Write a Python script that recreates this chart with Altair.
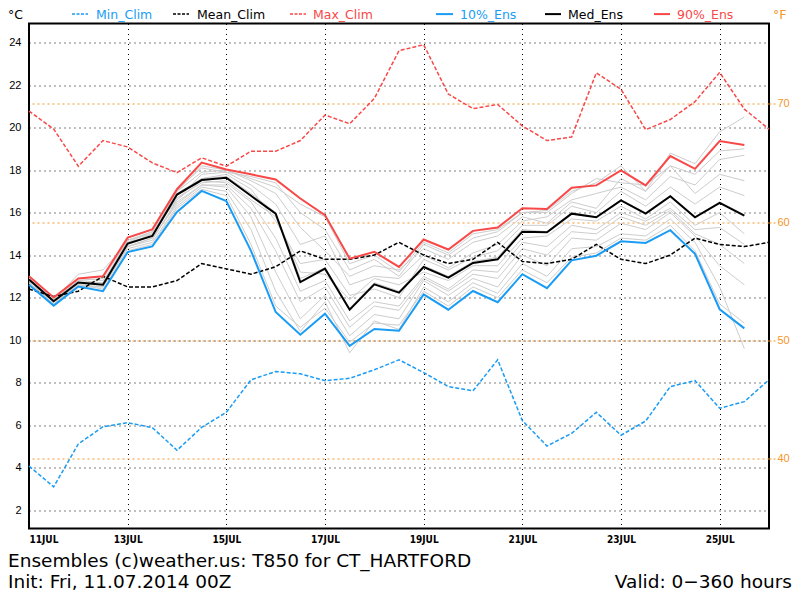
import altair as alt
import pandas as pd

# ---------------- data ----------------
hours_clim = list(range(0, 361, 12))   # 31 points, 11JUL 00Z .. 26JUL 00Z
hours_ens = list(range(0, 349, 12))    # 30 points

min_clim = [4.07, 3.09, 5.11, 5.92, 6.11, 5.88, 4.81, 5.89, 6.60, 8.13, 8.52, 8.41, 8.09, 8.20, 8.60, 9.07,
            8.47, 7.81, 7.61, 9.07, 6.21, 5.01, 5.61, 6.60, 5.52, 6.19, 7.81, 8.09, 6.79, 7.10, 8.13]
mean_clim = [12.4, 12.05, 12.3, 13.0, 12.5, 12.5, 12.8, 13.6, 13.35, 13.1, 13.45, 14.2, 13.8, 13.8, 14.0, 14.6,
             14.0, 13.6, 13.8, 14.6, 13.7, 13.6, 13.8, 14.5, 13.8, 13.6, 14.0, 14.8, 14.5, 14.4, 14.6]
max_clim = [20.78, 19.93, 18.18, 19.39, 19.09, 18.34, 17.88, 18.58, 18.18, 18.89, 18.89, 19.39, 20.59, 20.18, 21.37, 23.62,
            23.9, 21.58, 20.89, 21.09, 20.08, 19.39, 19.56, 22.58, 21.8, 19.9, 20.38, 21.22, 22.6, 20.87, 19.93]

p10_ens = [12.6, 11.62, 12.52, 12.3, 14.14, 14.41, 16.03, 17.02, 16.54, 14.2, 11.32, 10.25, 11.24, 9.73, 10.52,
           10.44, 12.15, 11.43, 12.31, 11.78, 13.1, 12.44, 13.75, 13.97, 14.65, 14.57, 15.17, 14.06, 11.45, 10.55]
med_ens = [12.85, 11.83, 12.71, 12.6, 14.54, 14.9, 16.85, 17.53, 17.64, 16.79, 15.95, 12.73, 13.36, 11.43, 12.62,
           12.23, 13.44, 12.94, 13.63, 13.8, 15.1, 15.07, 15.95, 15.78, 16.57, 15.95, 16.77, 15.78, 16.46, 15.86]
p90_ens = [13.0, 12.0, 12.9, 13.0, 14.82, 15.21, 17.1, 18.35, 18.03, 17.8, 17.56, 16.66, 15.88, 13.83, 14.15,
           13.44, 14.73, 14.26, 15.14, 15.3, 16.2, 16.17, 17.17, 17.28, 17.98, 17.28, 18.66, 18.06, 19.37, 19.18]

members = [
    [12.9, 11.9, 12.8, 12.9, 14.7, 15.0, 17.0, 18.2, 18.0, 17.6, 17.2, 16.4, 15.8, 13.6, 14.0, 13.2, 14.6, 14.1, 15.0, 15.2, 16.0, 16.1, 17.0, 17.4, 18.2, 17.0, 18.8, 18.3, 19.8, 20.5],
    [12.7, 11.7, 12.6, 12.4, 14.2, 14.5, 16.2, 17.1, 16.8, 14.5, 11.6, 10.6, 11.5, 9.9, 10.8, 10.7, 12.3, 11.6, 12.5, 12.0, 13.3, 12.7, 13.9, 14.1, 14.8, 14.7, 15.4, 14.2, 11.7, 10.8],
    [12.8, 11.8, 12.7, 12.7, 14.6, 14.9, 16.9, 17.6, 17.7, 16.9, 16.0, 12.9, 13.4, 11.5, 12.7, 12.3, 13.5, 13.0, 13.7, 13.9, 15.2, 15.1, 16.0, 15.8, 16.6, 16.0, 16.8, 15.8, 16.5, 15.9],
    [12.8, 11.9, 13.1, 13.3, 14.6, 15.1, 16.6, 17.8, 17.9, 17.3, 16.4, 14.5, 14.9, 12.6, 13.0, 12.9, 14.0, 13.4, 14.1, 14.5, 15.6, 15.8, 16.6, 16.9, 17.2, 16.6, 17.7, 17.3, 18.5, 18.7],
    [12.7, 11.8, 12.5, 12.5, 14.4, 14.8, 16.4, 17.3, 17.2, 15.8, 13.2, 11.0, 12.1, 10.2, 11.2, 11.0, 12.8, 12.1, 12.9, 12.5, 14.0, 13.5, 14.8, 14.7, 15.5, 15.2, 16.0, 14.9, 13.5, 12.6],
    [12.9, 11.9, 12.9, 12.8, 14.5, 15.0, 17.0, 17.9, 18.0, 17.5, 16.9, 15.3, 14.2, 13.0, 13.5, 13.3, 14.3, 13.8, 14.6, 14.9, 15.8, 15.5, 16.5, 16.2, 17.6, 17.0, 18.2, 16.9, 17.8, 17.5],
    [12.8, 11.8, 12.6, 12.6, 14.4, 14.7, 16.6, 17.5, 17.4, 16.5, 14.8, 12.3, 12.8, 10.9, 11.8, 11.6, 13.0, 12.4, 13.3, 13.2, 14.6, 14.4, 15.4, 15.2, 16.0, 15.6, 16.2, 15.2, 15.3, 14.5],
    [12.9, 11.9, 12.8, 12.7, 14.7, 15.1, 16.8, 17.6, 17.8, 17.1, 15.6, 13.6, 13.8, 12.1, 12.4, 12.0, 13.8, 13.3, 13.9, 14.2, 15.4, 15.4, 16.3, 16.0, 17.0, 16.3, 17.2, 16.4, 17.2, 16.8],
    [12.7, 11.7, 12.6, 12.5, 14.3, 14.6, 16.3, 17.2, 17.0, 15.2, 12.3, 10.4, 11.8, 9.4, 10.9, 10.5, 12.5, 11.8, 12.7, 12.2, 13.6, 13.0, 14.3, 14.4, 15.0, 14.9, 15.7, 14.6, 12.5, 9.6],
    [12.8, 11.8, 12.7, 12.7, 14.5, 14.9, 16.7, 17.4, 17.5, 16.6, 15.8, 13.2, 13.1, 11.9, 12.9, 12.6, 13.2, 12.8, 13.5, 13.5, 14.8, 14.9, 15.7, 15.6, 16.3, 15.7, 16.5, 15.4, 16.0, 15.0],
    [12.9, 11.9, 12.9, 13.0, 14.8, 15.2, 17.1, 18.1, 17.9, 17.7, 17.4, 16.0, 15.2, 13.3, 13.8, 13.0, 14.5, 14.0, 14.8, 15.1, 16.0, 16.0, 16.9, 17.6, 17.4, 17.3, 18.2, 17.8, 18.9, 19.0],
    [12.8, 11.8, 12.7, 12.6, 14.4, 14.8, 16.5, 17.3, 17.3, 16.2, 14.2, 11.8, 12.5, 10.6, 11.6, 11.4, 12.9, 12.3, 13.1, 12.9, 14.3, 14.0, 15.1, 15.0, 15.8, 15.4, 16.1, 15.0, 14.5, 13.6],
]

x_tick_hours = list(range(0, 337, 48))
y_ticks_c = list(range(2, 25, 2))
f_ticks = [40, 50, 60, 70]

# ---------------- styling ----------------
BLUE = "#1a9cf5"
RED = "#f84848"
ORANGE = "#f5962a"
GRAY = "#cdcdcd"
W, H = 740, 505
YDOM = [1.13, 24.9]

x_enc = alt.X(
    "hour:Q",
    scale=alt.Scale(domain=[0, 360], nice=False, zero=False),
    axis=alt.Axis(values=x_tick_hours, labelExpr="(11 + datum.value/24) + 'JUL'",
                  grid=True, gridColor="black", gridDash=[1, 4], gridWidth=1,
                  ticks=False, domain=False, title=None,
                  labelFont="Liberation Sans Narrow, DejaVu Sans Condensed, sans-serif",
                  labelFontSize=10, labelFontWeight="bold", labelColor="black", labelPadding=6),
)
y_axis = alt.Axis(values=y_ticks_c, grid=True, gridColor="black", gridDash=[1, 4], gridWidth=1,
                  ticks=False, domain=False, title=None, orient="left",
                  labelFont="Liberation Sans", labelFontSize=11, labelColor="black",
                  labelPadding=8, labelOverlap=False)
y_enc = alt.Y("value:Q", scale=alt.Scale(domain=YDOM, nice=False, zero=False), axis=y_axis)


def series_df(hours, vals):
    return pd.DataFrame({"hour": hours, "value": vals})


mem_rows = []
for k, m in enumerate(members):
    for h, v in zip(hours_ens, m):
        mem_rows.append({"hour": h, "value": v, "member": k})
mem_df = pd.DataFrame(mem_rows)

layers = [
    alt.Chart(mem_df).mark_line(color=GRAY, strokeWidth=1).encode(x=x_enc, y=y_enc, detail="member:N"),
    alt.Chart(series_df(hours_clim, min_clim)).mark_line(color=BLUE, strokeWidth=1.5, strokeDash=[4, 2]).encode(x=x_enc, y=y_enc),
    alt.Chart(series_df(hours_clim, mean_clim)).mark_line(color="black", strokeWidth=1.5, strokeDash=[4, 2]).encode(x=x_enc, y=y_enc),
    alt.Chart(series_df(hours_clim, max_clim)).mark_line(color=RED, strokeWidth=1.5, strokeDash=[4, 2]).encode(x=x_enc, y=y_enc),
    alt.Chart(series_df(hours_ens, p10_ens)).mark_line(color=BLUE, strokeWidth=2).encode(x=x_enc, y=y_enc),
    alt.Chart(series_df(hours_ens, med_ens)).mark_line(color="black", strokeWidth=2).encode(x=x_enc, y=y_enc),
    alt.Chart(series_df(hours_ens, p90_ens)).mark_line(color=RED, strokeWidth=2).encode(x=x_enc, y=y_enc),
]

# ---------------- legend / annotations (pixel positions relative to plot) ----------------
one = pd.DataFrame({"d": [0]})
LEG_BASE = -5.0     # text baseline
LEG_Y = -9.4        # swatch line
LEG_FONT = "DejaVu Sans"


def label(txt, x, y, color="black", size=12.5, align="left", font=LEG_FONT, baseline="alphabetic"):
    return alt.Chart(one).mark_text(text=txt, color=color, fontSize=size, font=font, align=align,
                                    baseline=baseline).encode(x=alt.value(x), y=alt.value(y))


def swatch(x1, x2, color, dash=None):
    kw = dict(color=color, strokeWidth=1.5 if dash else 2)
    if dash:
        kw["strokeDash"] = dash
    return alt.Chart(one).mark_rule(**kw).encode(x=alt.value(x1), x2=alt.value(x2), y=alt.value(LEG_Y))


BOT = 18.5
annots = [
    label("°C", -21, LEG_BASE),
    swatch(43, 59, BLUE, [3, 1.5]), label("Min_Clim", 67, LEG_BASE, BLUE),
    swatch(144, 160, "black", [3, 1.5]), label("Mean_Clim", 168, LEG_BASE, "black"),
    swatch(261, 277, RED, [3, 1.5]), label("Max_Clim", 284, LEG_BASE, RED),
    swatch(407, 424, BLUE), label("10%_Ens", 431, LEG_BASE, BLUE),
    swatch(516, 532, "black"), label("Med_Ens", 539, LEG_BASE, "black"),
    swatch(625, 641, RED), label("90%_Ens", 648, LEG_BASE, RED),
    label("°F", 744, LEG_BASE, ORANGE),
    label("Ensembles (c)weather.us: T850 for CT_HARTFORD", -21, 543.5, size=BOT),
    label("Init: Fri, 11.07.2014 00Z", -21, 564.5, size=BOT),
    label("Valid: 0\u2212360 hours", 763, 564.5, size=BOT, align="right"),
]

main = alt.layer(*layers, *annots)

# right-hand Fahrenheit axis with orange gridlines
f_df = pd.DataFrame({"f": f_ticks})
f_df["c"] = (f_df["f"] - 32) * 5 / 9
right = alt.Chart(f_df).mark_rule(opacity=0).encode(
    y=alt.Y("c:Q", scale=alt.Scale(domain=YDOM, nice=False, zero=False),
            axis=alt.Axis(orient="right", values=list(f_df["c"]),
                          labelExpr="format(datum.value*9/5+32, '.0f')",
                          grid=True, gridColor=ORANGE, gridDash=[2, 3], gridWidth=1,
                          ticks=True, tickColor=ORANGE, tickDash=[2, 2], tickSize=6, tickWidth=1,
                          domain=False, title=None, labelColor=ORANGE,
                          labelFont="Liberation Sans", labelFontSize=11, labelPadding=2,
                          labelOverlap=False))
)

chart = alt.layer(right, main).resolve_scale(y="independent").properties(
    width=W, height=H,
    autosize="none",
    padding={"left": 21, "top": 15.5, "right": 23, "bottom": 64},
    background="white",
).configure_view(stroke="black", strokeWidth=2)

chart.save("out.html", embed_options={"renderer": "svg", "actions": False})
